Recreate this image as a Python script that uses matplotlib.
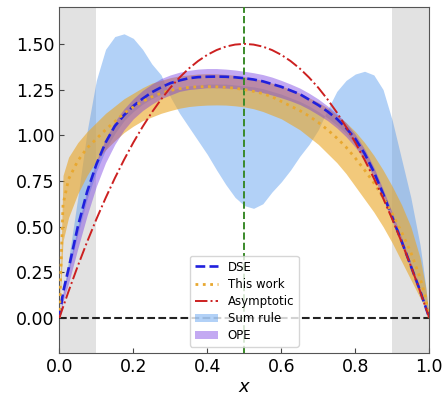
import numpy as np
import matplotlib
matplotlib.use("Agg")
import matplotlib.pyplot as plt

# x grid the curves were read on
x = [0, 0.01, 0.025, 0.05, 0.075, 0.1, 0.125, 0.15, 0.175, 0.2, 0.225, 0.25, 0.275,
     0.3, 0.325, 0.35, 0.375, 0.4, 0.425, 0.45, 0.475, 0.5, 0.525, 0.55, 0.575, 0.6,
     0.625, 0.65, 0.675, 0.7, 0.725, 0.75, 0.775, 0.8, 0.825, 0.85, 0.875, 0.9,
     0.925, 0.95, 0.975, 0.99, 1.0]

dse = [0, 0.14, 0.27, 0.50, 0.69, 0.84, 0.96, 1.05, 1.11, 1.16, 1.20, 1.235, 1.262,
       1.285, 1.30, 1.312, 1.318, 1.32, 1.321, 1.32, 1.317, 1.312, 1.305, 1.295, 1.28,
       1.265, 1.245, 1.225, 1.195, 1.165, 1.13, 1.09, 1.04, 0.98, 0.90, 0.80, 0.68,
       0.55, 0.42, 0.285, 0.15, 0.06, 0]

asym = [0, 0.059, 0.146, 0.285, 0.416, 0.54, 0.656, 0.765, 0.866, 0.96, 1.046, 1.125,
        1.196, 1.26, 1.316, 1.365, 1.406, 1.44, 1.466, 1.485, 1.496, 1.5, 1.496, 1.485,
        1.466, 1.44, 1.406, 1.365, 1.316, 1.26, 1.196, 1.125, 1.046, 0.96, 0.866,
        0.765, 0.656, 0.54, 0.416, 0.285, 0.146, 0.059, 0]

this_work = [0, 0.62, 0.76, 0.86, 0.93, 0.98, 1.03, 1.075, 1.12, 1.155, 1.185, 1.21,
             1.23, 1.245, 1.255, 1.262, 1.265, 1.266, 1.265, 1.262, 1.257, 1.25, 1.24,
             1.228, 1.21, 1.185, 1.16, 1.135, 1.105, 1.07, 1.03, 0.985, 0.935, 0.875,
             0.81, 0.74, 0.66, 0.57, 0.47, 0.36, 0.22, 0.11, 0]
this_hi = [0, 0.78, 0.88, 0.96, 1.02, 1.07, 1.12, 1.16, 1.20, 1.23, 1.26, 1.285, 1.30,
           1.315, 1.325, 1.33, 1.335, 1.337, 1.336, 1.333, 1.328, 1.32, 1.31, 1.30,
           1.285, 1.27, 1.25, 1.23, 1.205, 1.18, 1.15, 1.11, 1.07, 1.02, 0.96, 0.89,
           0.81, 0.72, 0.62, 0.50, 0.33, 0.17, 0]
this_lo = [0, 0.42, 0.55, 0.68, 0.78, 0.86, 0.92, 0.97, 1.015, 1.05, 1.08, 1.10, 1.12,
           1.135, 1.148, 1.157, 1.162, 1.165, 1.166, 1.165, 1.161, 1.155, 1.145, 1.13,
           1.11, 1.09, 1.06, 1.03, 0.99, 0.95, 0.90, 0.85, 0.79, 0.72, 0.65, 0.58, 0.50,
           0.41, 0.31, 0.21, 0.11, 0.05, 0]

sum_a = [0, 0.12, 0.32, 0.66, 1.02, 1.30, 1.47, 1.54, 1.555, 1.53, 1.47, 1.39, 1.33,
         1.21, 1.12, 1.045, 0.97, 0.895, 0.81, 0.73, 0.66, 0.615, 0.60, 0.625, 0.69,
         0.745, 0.81, 0.885, 0.95, 1.03, 1.14, 1.24, 1.30, 1.335, 1.35, 1.33, 1.25,
         1.08, 0.87, 0.66, 0.40, 0.18, 0]
sum_b = [0, 0.12, 0.25, 0.46, 0.65, 0.80, 0.92, 1.01, 1.08, 1.13, 1.17, 1.20, 1.225,
         1.245, 1.26, 1.27, 1.275, 1.28, 1.28, 1.28, 1.275, 1.27, 1.265, 1.255, 1.24,
         1.225, 1.205, 1.185, 1.16, 1.13, 1.095, 1.055, 1.01, 0.95, 0.88, 0.79, 0.68,
         0.56, 0.43, 0.29, 0.15, 0.06, 0]

ope_hi = [0, 0.14, 0.28, 0.50, 0.70, 0.86, 0.98, 1.075, 1.145, 1.20, 1.245, 1.28, 1.31,
          1.33, 1.345, 1.355, 1.362, 1.365, 1.365, 1.362, 1.357, 1.35, 1.342, 1.332,
          1.318, 1.30, 1.28, 1.258, 1.23, 1.198, 1.16, 1.118, 1.068, 1.005, 0.925,
          0.825, 0.705, 0.575, 0.44, 0.30, 0.16, 0.065, 0]
ope_lo = [0, 0.09, 0.19, 0.38, 0.56, 0.72, 0.85, 0.95, 1.03, 1.09, 1.135, 1.17, 1.20,
          1.22, 1.24, 1.25, 1.255, 1.26, 1.26, 1.258, 1.255, 1.25, 1.243, 1.233, 1.22,
          1.205, 1.188, 1.168, 1.142, 1.112, 1.08, 1.04, 0.992, 0.935, 0.865, 0.77,
          0.655, 0.53, 0.40, 0.27, 0.14, 0.055, 0]

fig = plt.figure(figsize=(4.44, 3.95), dpi=100)
ax = fig.add_axes([0.1336, 0.107, 0.8333, 0.8745])

# grey end regions
ax.axvspan(0, 0.1, color='lightgrey', alpha=0.65, lw=0, zorder=0)
ax.axvspan(0.9, 1.0, color='lightgrey', alpha=0.65, lw=0, zorder=0)

ax.fill_between(x, sum_a, sum_b, color='#5599ee', alpha=0.45, lw=0, label='Sum rule', zorder=1)
ax.fill_between(x, this_lo, this_hi, color='#eaa524', alpha=0.6, lw=0, zorder=2)
ax.fill_between(x, ope_lo, ope_hi, color='#7034e0', alpha=0.42, lw=0, label='OPE', zorder=3)

ax.plot(x, dse, '--', color='#2020dd', lw=1.9, label='DSE', zorder=5)
ax.plot(x, this_work, ':', color='#e8a830', lw=2.0, label='This work', zorder=5)
ax.plot(x, asym, '-.', color='#cc2020', lw=1.4, label='Asymptotic', zorder=5)

ax.axhline(0, color='#222222', ls='--', lw=1.5, zorder=4)
ax.axvline(0.5, color='#3a8a2a', ls='--', lw=1.4, zorder=4)

ax.set_xlim(0, 1)
ax.set_ylim(-0.19, 1.70)
ax.set_xticks([0, 0.2, 0.4, 0.6, 0.8, 1.0])
ax.set_yticks([0, 0.25, 0.5, 0.75, 1.0, 1.25, 1.5])
ax.tick_params(direction='in', labelsize=12.5, color='#444444')
ax.set_xlabel('$x$', fontsize=13, labelpad=2)
for s in ax.spines.values():
    s.set_color('#555555')

h, l = ax.get_legend_handles_labels()
order = ['DSE', 'This work', 'Asymptotic', 'Sum rule', 'OPE']
hd = dict(zip(l, h))
ax.legend([hd[k] for k in order], order, loc='lower center', fontsize=8.5,
          framealpha=0.8, edgecolor='#cccccc', labelspacing=0.35)

fig.savefig('out.png', dpi=100)
